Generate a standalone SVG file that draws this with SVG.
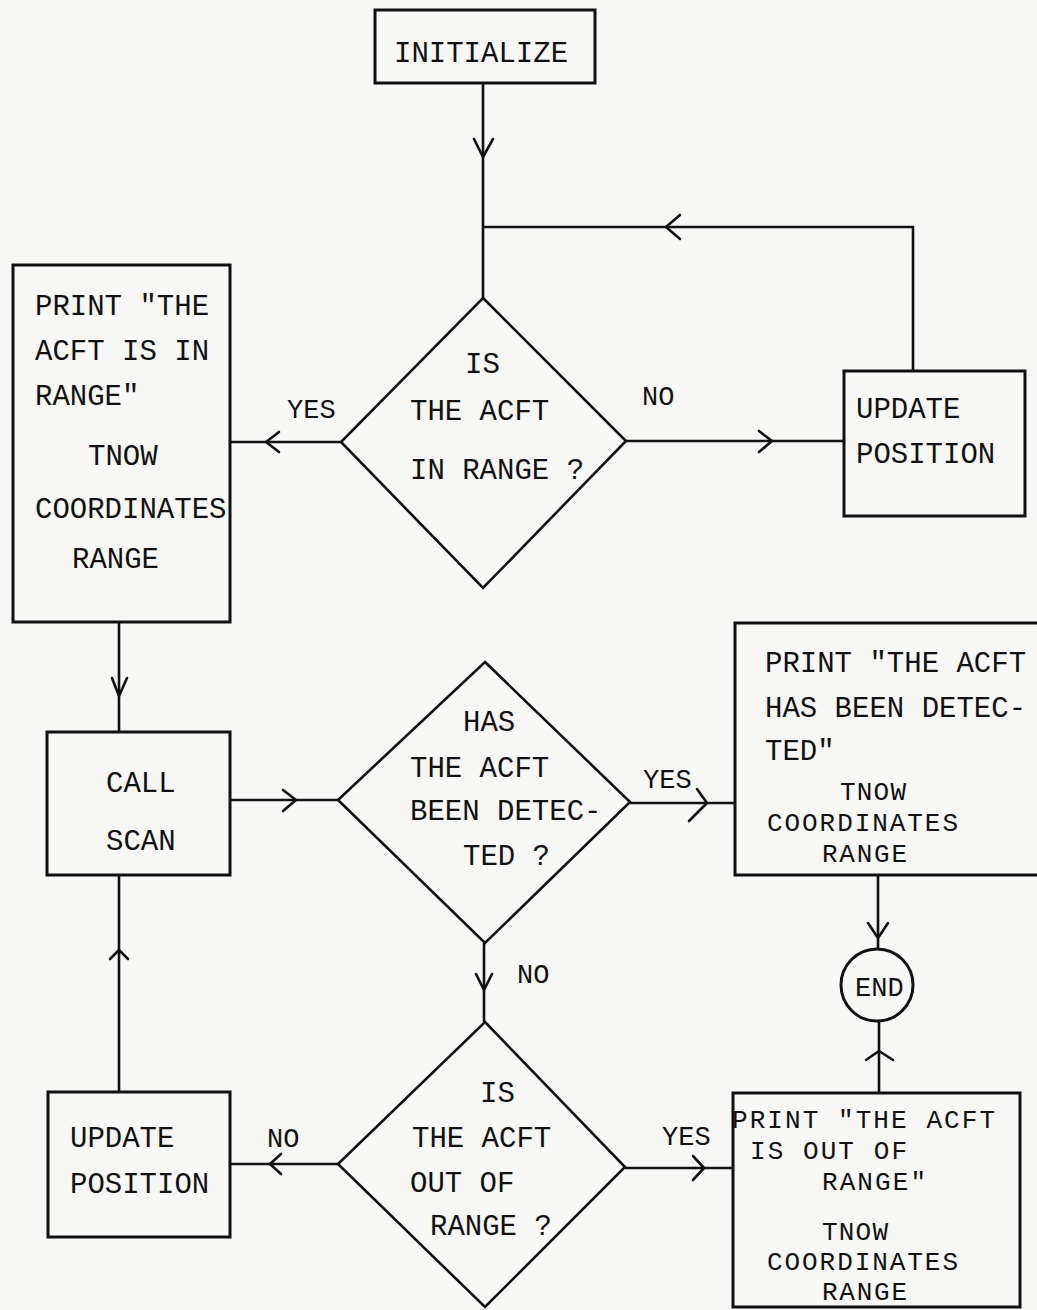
<svg xmlns="http://www.w3.org/2000/svg" width="1037" height="1310" viewBox="0 0 1037 1310">
<style>
.bg{fill:#f7f7f5}
.box{fill:none;stroke:#111;stroke-width:3}
.dia{fill:none;stroke:#111;stroke-width:2.6;stroke-linejoin:miter}
.ln{fill:none;stroke:#111;stroke-width:2.6}
.ah{fill:none;stroke:#111;stroke-width:2.6;stroke-linecap:round;stroke-linejoin:round}
text{font-family:"Liberation Mono","Courier New",monospace;font-size:29px;fill:#111}
.lbl{font-size:27px}
.sm{font-size:26px}
</style>
<rect class="bg" x="0" y="0" width="1037" height="1310"/>
<g id="connectors">
<path class="ln" d="M483,83 V298"/>
<path class="ln" d="M483,227 H913 V371"/>
<path class="ln" d="M341,442 H230"/>
<path class="ln" d="M626,441 H844"/>
<path class="ln" d="M119,622 V732"/>
<path class="ln" d="M230,800 H338"/>
<path class="ln" d="M630,803 H735"/>
<path class="ln" d="M878,875 V949"/>
<path class="ln" d="M484,943 V1022"/>
<path class="ln" d="M119,875 V1092"/>
<path class="ln" d="M338,1164 H230"/>
<path class="ln" d="M625,1168 H733"/>
<path class="ln" d="M879,1022 V1093"/>
<path class="ah" d="M474,139 L483,157 L493,139"/>
<path class="ah" d="M680,215 L666,227 L680,239"/>
<path class="ah" d="M279,432 L266,442 L279,452"/>
<path class="ah" d="M759,431 L772,441 L759,452"/>
<path class="ah" d="M112,678 L119,696 L127,678"/>
<path class="ah" d="M283,790 L296,800 L283,811"/>
<path class="ah" d="M697,789 L707,803 L689,821"/>
<path class="ah" d="M868,923 L878,938 L888,923"/>
<path class="ah" d="M110,959 L119,950 L128,959"/>
<path class="ah" d="M281,1154 L270,1164 L281,1174"/>
<path class="ah" d="M476,974 L484,990 L492,974"/>
<path class="ah" d="M866,1060 L879,1051 L893,1060"/>
<path class="ah" d="M693,1156 L704,1168 L693,1180"/>
</g>
<g id="initialize">
<rect class="box" x="375" y="10" width="220" height="73"/>
<text x="394" y="62">INITIALIZE</text>
</g>
<g id="decision-in-range">
<polygon class="dia" points="483,298 626,441 483,588 341,442"/>
<text x="465" y="373">IS</text>
<text x="410" y="420">THE ACFT</text>
<text x="410" y="479">IN RANGE ?</text>
</g>
<g id="print-in-range">
<rect class="box" x="13" y="265" width="217" height="357"/>
<text x="35" y="315">PRINT "THE</text>
<text x="35" y="360">ACFT IS IN</text>
<text x="35" y="405">RANGE"</text>
<text x="88" y="465">TNOW</text>
<text x="35" y="518">COORDINATES</text>
<text x="72" y="568">RANGE</text>
</g>
<g id="update-position-1">
<rect class="box" x="844" y="371" width="181" height="145"/>
<text x="856" y="418">UPDATE</text>
<text x="856" y="463">POSITION</text>
</g>
<g id="call-scan">
<rect class="box" x="47" y="732" width="183" height="143"/>
<text x="106" y="792">CALL</text>
<text x="106" y="850">SCAN</text>
</g>
<g id="decision-detected">
<polygon class="dia" points="485,662 630,802 485,943 338,800"/>
<text x="463" y="731">HAS</text>
<text x="410" y="777">THE ACFT</text>
<text x="410" y="820">BEEN DETEC-</text>
<text x="463" y="865">TED ?</text>
</g>
<g id="print-detected">
<rect class="box" x="735" y="623" width="310" height="252"/>
<text x="765" y="672">PRINT "THE ACFT</text>
<text x="765" y="717">HAS BEEN DETEC-</text>
<text x="765" y="760">TED"</text>
<text class="sm" x="840" y="800" textLength="66" lengthAdjust="spacing">TNOW</text>
<text class="sm" x="767" y="831" textLength="191" lengthAdjust="spacing">COORDINATES</text>
<text class="sm" x="822" y="862" textLength="85" lengthAdjust="spacing">RANGE</text>
</g>
<g id="end">
<circle class="box" cx="877" cy="985" r="36"/>
<text class="lbl" x="855" y="996">END</text>
</g>
<g id="decision-out-of-range">
<polygon class="dia" points="485,1022 625,1167 485,1307 338,1164"/>
<text x="480" y="1102">IS</text>
<text x="412" y="1147">THE ACFT</text>
<text x="410" y="1192">OUT OF</text>
<text x="430" y="1235">RANGE ?</text>
</g>
<g id="update-position-2">
<rect class="box" x="48" y="1092" width="182" height="145"/>
<text x="70" y="1147">UPDATE</text>
<text x="70" y="1193">POSITION</text>
</g>
<g id="print-out-of-range">
<rect class="box" x="733" y="1093" width="287" height="214"/>
<text class="sm" x="732" y="1128" textLength="263" lengthAdjust="spacing">PRINT "THE ACFT</text>
<text class="sm" x="750" y="1159" textLength="157" lengthAdjust="spacing">IS OUT OF</text>
<text class="sm" x="822" y="1190" textLength="104" lengthAdjust="spacing">RANGE"</text>
<text class="sm" x="822" y="1240" textLength="66" lengthAdjust="spacing">TNOW</text>
<text class="sm" x="767" y="1270" textLength="191" lengthAdjust="spacing">COORDINATES</text>
<text class="sm" x="822" y="1300" textLength="85" lengthAdjust="spacing">RANGE</text>
</g>
<g id="labels">
<text class="lbl" x="287" y="418">YES</text>
<text class="lbl" x="642" y="405">NO</text>
<text class="lbl" x="643" y="788">YES</text>
<text class="lbl" x="517" y="983">NO</text>
<text class="lbl" x="267" y="1147">NO</text>
<text class="lbl" x="662" y="1145">YES</text>
</g>
</svg>
